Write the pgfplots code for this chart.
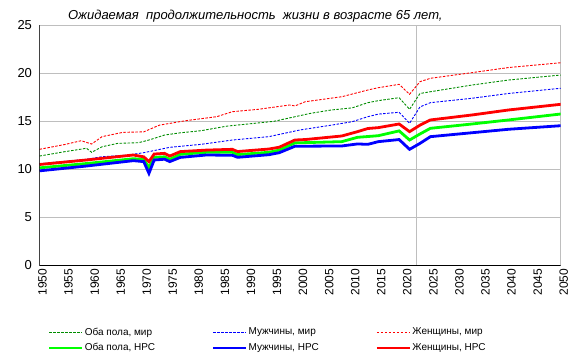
\documentclass[border=0pt]{standalone}
\usepackage{fontspec}
\setmainfont{Liberation Sans}
\usepackage{pgfplots}
\pgfplotsset{compat=1.18}
\definecolor{wgreen}{RGB}{0,140,0}
\definecolor{nblue}{RGB}{0,0,255}
\definecolor{nred}{RGB}{255,0,0}
\definecolor{ngreen}{RGB}{0,255,0}
\definecolor{gridgray}{RGB}{190,190,190}
\begin{document}
\begin{tikzpicture}
\useasboundingbox (-39.5pt,-96.7pt) rectangle (535.5pt,265.3pt);
\begin{axis}[at={(0,0)}, anchor=south west, scale only axis,
  width=521.2pt, height=240pt,
  xmin=1950, xmax=2050, ymin=0, ymax=25,
  xtick={1950,1955,...,2050}, ytick={0,5,...,25},
  major tick length=0pt,
  axis line style={gridgray, line width=0.9pt},
  ymajorgrids, grid style={gridgray, line width=0.8pt},
  /pgf/number format/assume math mode=true,
  /pgf/number format/1000 sep={},
  xticklabel style={rotate=90, anchor=east, font=\fontsize{12}{14}\selectfont, yshift=-3pt},
  yticklabel style={font=\fontsize{13}{15}\selectfont, xshift=-4pt},
  legend columns=3,
  legend cell align=left,
  legend image code/.code={\draw[#1] (0pt,0pt) -- (33pt,0pt);},
  legend style={draw=none, fill=none, inner sep=0pt, outer sep=0pt,
    at={(axis description cs:0.0163,-0.256)}, anchor=north west,
    font=\fontsize{10}{12}\selectfont, row sep=5pt,
    nodes={inner sep=1pt},
    /tikz/every odd column/.append style={column sep=0pt}},
]
\draw[gridgray, line width=0.8pt] (axis cs:2022.3,0) -- (axis cs:2022.3,25);
% World, both sexes
\addplot[wgreen, line width=0.9pt, dash pattern=on 2.5pt off 1.5pt] coordinates {
(1950,11.38)(1955,11.85)(1958,12.1)(1959,12.2)(1960,11.77)(1962,12.35)(1965,12.7)(1969,12.77)(1971,13.05)(1974,13.57)(1977,13.8)(1981,14.02)(1986,14.5)(1990,14.72)(1995,15.0)(2002,15.83)(2006,16.18)(2010,16.4)(2013,16.94)(2015,17.15)(2019,17.46)(2021,16.25)(2023,17.9)(2025,18.08)(2033,18.78)(2040,19.3)(2050,19.82)};
\addlegendentry{\makebox[126pt][l]{Оба пола, мир}}
% World, men
\addplot[nblue, line width=0.9pt, dash pattern=on 2.5pt off 1.5pt] coordinates {
(1950,10.55)(1952,10.69)(1959,11.04)(1962,11.31)(1967,11.49)(1970,11.73)(1975,12.29)(1981,12.6)(1987,13.05)(1994,13.4)(2000,14.1)(2006,14.6)(2010,14.96)(2013,15.48)(2015,15.75)(2019,15.94)(2021,14.79)(2023,16.5)(2025,16.94)(2033,17.4)(2040,17.9)(2050,18.44)};
\addlegendentry{\makebox[126pt][l]{Мужчины, мир}}
% World, women
\addplot[nred, line width=0.9pt, dash pattern=on 2.5pt off 1.5pt] coordinates {
(1950,12.08)(1955,12.6)(1958,12.98)(1960,12.63)(1962,13.4)(1966,13.85)(1970,13.9)(1973,14.6)(1978,15.06)(1984,15.48)(1987,16.0)(1992,16.25)(1998,16.7)(1999,16.6)(2001,17.04)(2008,17.56)(2013,18.26)(2015,18.5)(2019,18.85)(2021,17.81)(2023,19.13)(2025,19.48)(2033,20.07)(2040,20.6)(2050,21.1)};
\addlegendentry{\makebox[126pt][l]{Женщины, мир}}
% NRS, both sexes
\addplot[ngreen, line width=2.8pt] coordinates {
(1950,10.15)(1959,10.6)(1968,11.1)(1970,11.04)(1971,10.2)(1972,11.24)(1974,11.3)(1975,11.04)(1977,11.56)(1982,11.77)(1987,11.77)(1988,11.53)(1994,11.77)(1996,12.0)(1999,12.75)(2008,12.88)(2011,13.33)(2015,13.5)(2019,14.0)(2021,13.05)(2023,13.68)(2025,14.27)(2033,14.72)(2040,15.14)(2050,15.76)};
\addlegendentry{\makebox[126pt][l]{Оба пола, НРС}}
% NRS, men
\addplot[nblue, line width=2.8pt] coordinates {
(1950,9.84)(1959,10.34)(1968,10.9)(1970,10.8)(1971,9.58)(1972,10.97)(1974,11.05)(1975,10.8)(1977,11.24)(1982,11.49)(1987,11.46)(1988,11.25)(1994,11.52)(1996,11.73)(1999,12.4)(2008,12.43)(2011,12.64)(2013,12.6)(2015,12.88)(2019,13.1)(2021,12.08)(2023,12.7)(2025,13.4)(2033,13.81)(2040,14.17)(2050,14.54)};
\addlegendentry{\makebox[126pt][l]{Мужчины, НРС}}
% NRS, women
\addplot[nred, line width=2.8pt] coordinates {
(1950,10.5)(1959,10.97)(1968,11.49)(1970,11.3)(1971,10.8)(1972,11.59)(1974,11.66)(1975,11.38)(1977,11.84)(1982,12.0)(1987,12.08)(1988,11.85)(1994,12.11)(1996,12.3)(1999,13.05)(2001,13.1)(2008,13.47)(2011,13.92)(2013,14.25)(2015,14.34)(2019,14.72)(2021,13.92)(2023,14.6)(2025,15.14)(2033,15.66)(2040,16.18)(2050,16.77)};
\addlegendentry{\makebox[126pt][l]{Женщины, НРС}}
\draw[black, line width=1pt] (rel axis cs:0,1) -- (rel axis cs:0,0) -- (rel axis cs:1,0);
\end{axis}
\node[anchor=base west, font=\itshape\fontsize{13}{15}\selectfont] at (25pt,246pt)
  {Ожидаемая\ \ продолжительность\ \ жизни в возрасте 65 лет,};
\end{tikzpicture}
\end{document}
